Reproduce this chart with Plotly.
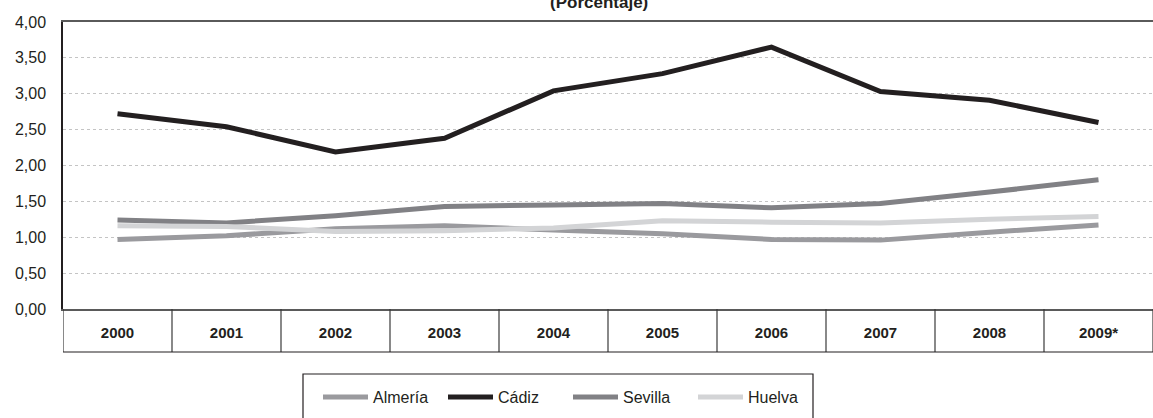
import plotly.graph_objects as go

years = ["2000", "2001", "2002", "2003", "2004", "2005", "2006", "2007", "2008", "2009*"]
almeria = [0.97, 1.02, 1.12, 1.16, 1.10, 1.05, 0.97, 0.96, 1.07, 1.17]
cadiz = [2.72, 2.54, 2.19, 2.38, 3.04, 3.28, 3.65, 3.03, 2.91, 2.60]
sevilla = [1.24, 1.20, 1.30, 1.43, 1.45, 1.47, 1.41, 1.47, 1.63, 1.80]
huelva = [1.16, 1.15, 1.08, 1.09, 1.13, 1.23, 1.21, 1.20, 1.25, 1.29]
series = [("Almería", almeria, "#9a9a9e"), ("Cádiz", cadiz, "#231f20"),
          ("Sevilla", sevilla, "#818185"), ("Huelva", huelva, "#d3d4d6")]
y_ticks = [0, 0.5, 1, 1.5, 2, 2.5, 3, 3.5, 4]

W, H = 1153, 418
ML, MR, MT, MB = 63, 0, 22, 109
PH = H - MT - MB
PW = W - ML - MR

def py(px_below):
    # paper y for a pixel distance below the plot bottom
    return -px_below / PH

def pxx(px):
    return (px - ML) / PW

fig = go.Figure()
for name, vals, col in series:
    fig.add_trace(go.Scatter(x=years, y=vals, name=name, mode="lines",
                             line=dict(color=col, width=5)))

shapes = []
n = len(years)
table_bottom = py(352 - 309)
for k in range(n + 1):
    shapes.append(dict(type="line", xref="x", yref="paper", x0=k - 0.5, x1=k - 0.5,
                       y0=table_bottom, y1=0, line=dict(color="#3a3a3a", width=1.2)))
shapes.append(dict(type="line", xref="x", yref="paper", x0=-0.5, x1=n - 0.5,
                   y0=table_bottom, y1=table_bottom, line=dict(color="#231f20", width=1.2)))
# legend box
shapes.append(dict(type="rect", xref="paper", yref="paper", x0=pxx(303), x1=pxx(813),
                   y0=py(374 - 309), y1=py(440 - 309), line=dict(color="#231f20", width=1.2),
                   fillcolor="rgba(0,0,0,0)"))

fig.update_layout(
    width=W, height=H,
    margin=dict(l=ML, r=MR, t=MT, b=MB, pad=0, autoexpand=False),
    paper_bgcolor="white", plot_bgcolor="white",
    separators=",.",
    font=dict(family="Liberation Sans, Arial, sans-serif", color="#231f20"),
    showlegend=True,
    legend=dict(orientation="h", x=pxx(318), xanchor="left", y=py(397 - 309), yanchor="middle",
                font=dict(size=16, color="#231f20"), borderwidth=0,
                bgcolor="rgba(0,0,0,0)", entrywidth=65, entrywidthmode="pixels",
                itemwidth=45),
    xaxis=dict(type="category", range=[-0.5, n - 0.5], showgrid=False, zeroline=False,
               showline=True, mirror=True, linecolor="#5a5a5a", linewidth=1.5,
               ticks="", ticklabelstandoff=9, automargin=False,
               tickfont=dict(size=15, color="#231f20", family="Liberation Sans, Arial, sans-serif"),
               tickprefix="<b>", ticksuffix="</b>", fixedrange=True),
    yaxis=dict(range=[0, 4], tickvals=y_ticks, tickformat=".2f", showgrid=True,
               gridcolor="#c4c4c4", griddash="dot", gridwidth=1, zeroline=False,
               showline=True, linecolor="#231f20", linewidth=1.5, ticks="", automargin=False,
               ticklabelstandoff=12, tickfont=dict(size=16, color="#231f20")),
    shapes=shapes,
    annotations=[dict(text="<b>(Porcentaje)</b>", xref="paper", yref="paper",
                      x=pxx(598.5), y=1 + (MT - 14) / PH, xanchor="center", yanchor="bottom",
                      showarrow=False, font=dict(size=17, color="#231f20"))],
)

fig.write_html("out.html", config={"displayModeBar": False},
               post_script="document.body.style.margin='0px';document.body.style.overflow='hidden';")
